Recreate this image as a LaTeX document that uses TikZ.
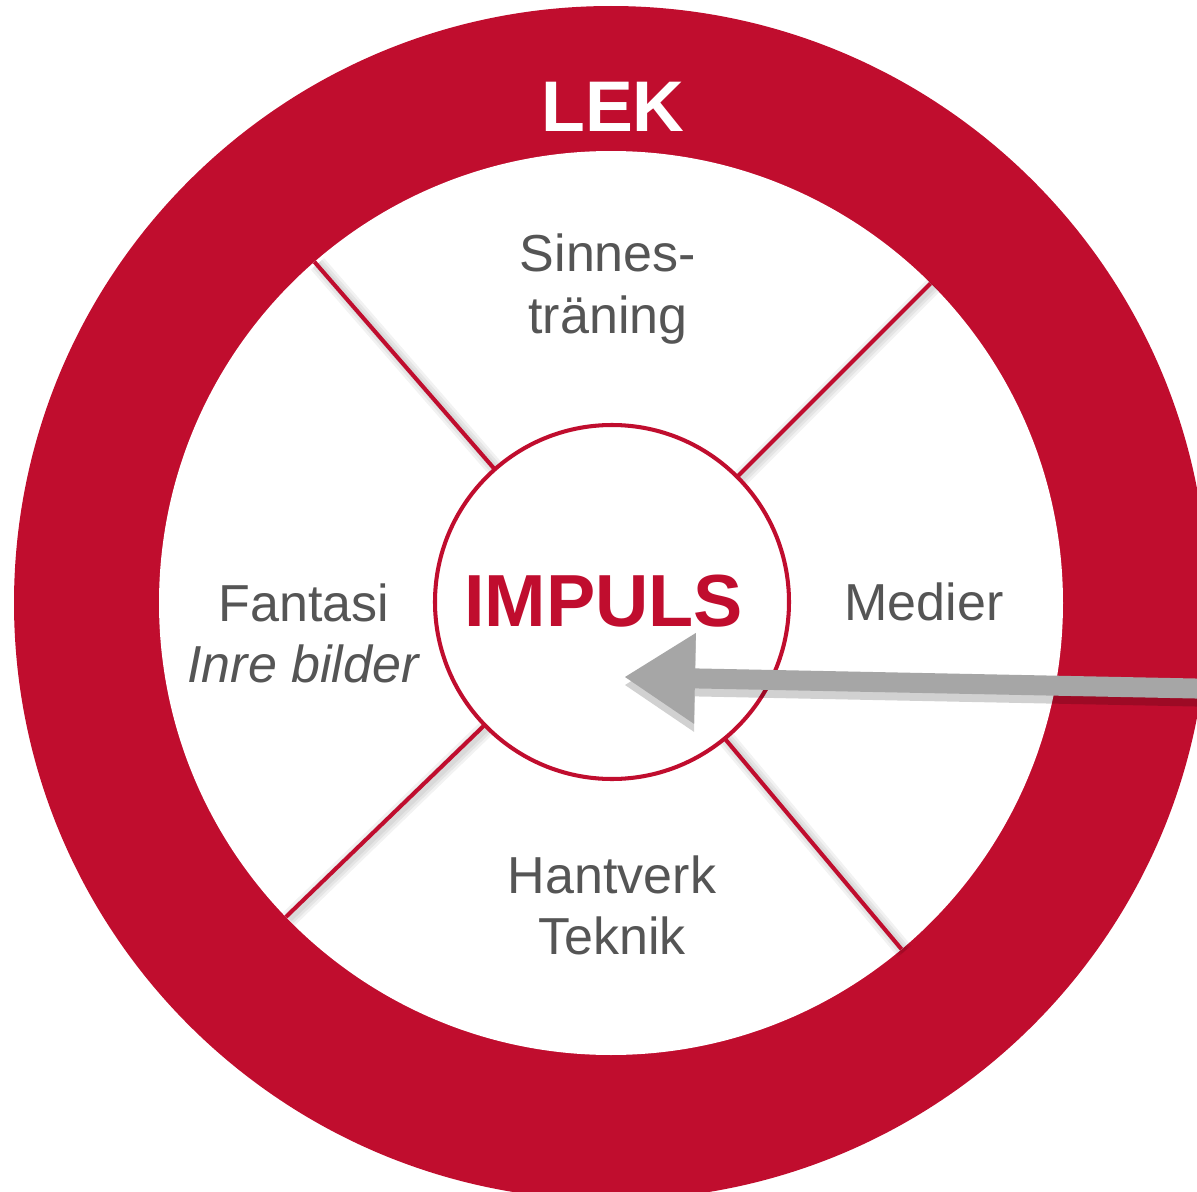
\documentclass[tikz,border=0pt]{standalone}
\usepackage{fontspec}
\setmainfont{Liberation Sans}
\usetikzlibrary{arrows.meta}
\definecolor{lekred}{RGB}{192,13,46}
\definecolor{labelgray}{RGB}{85,85,85}
\definecolor{chalkgray}{RGB}{166,166,166}
\tikzset{
  sector/.style={text=labelgray, align=center, inner sep=0pt,
    font=\fontsize{14.8}{17.4}\selectfont},
  spoke/.style={draw=lekred, line width=1.15pt},
  spokeshade/.style={draw=black, opacity=0.05, line width=#1},
  chalk/.style={line width=2mm, -{Triangle[length=7mm,width=9.1mm,line width=0pt]}},
}

\begin{document}
\begin{tikzpicture}
% ring, hub and spokes
\useasboundingbox (0,0) rectangle (11.97,-11.92);
\clip (0,0) rectangle (11.97,-11.92);
\coordinate (c) at (6.11,-6.03);
\fill[lekred] (c) circle (5.97);
\node[circle, fill=white, minimum size=9.04cm, inner sep=0pt, outer sep=0pt] (rim) at (c) {};
\foreach \a in {45,131,224,310}
{
\foreach \w in {2pt,3.5pt,5pt}
  \draw[spokeshade=\w] ([shift={(0.03,-0.02)}]rim.\a) -- ([shift={(0.03,-0.02)}]c);
\draw[spoke] (rim.\a) -- (c);
}
\node[circle, draw=lekred, line width=1.15pt, fill=white, minimum size=3.54cm,
  inner sep=0pt, outer sep=0pt] (hub) at (6.12,-6.02) {};
\node[font=\bfseries\fontsize{20.4}{24}\selectfont, text=white, inner sep=0pt] (lek) at (6.13,-1.07) {LEK};
\node[font=\bfseries\fontsize{21}{25}\selectfont, text=lekred, inner sep=0pt] (impuls) at (6.035,-6.015) {IMPULS};
\node[sector] (sinnes) at (6.08,-2.89) {Sinnes-\\träning};
\node[sector] (fantasi) at (3.04,-6.33) {Fantasi\\\textit{Inre bilder}};
\node[sector] (medier) at (9.24,-6.015) {Medier};
\node[sector] (hantverk) at (6.12,-9.05) {Hantverk\\Teknik};
% the arrow
\coordinate (tail) at (12.2,-6.89);
\coordinate (tip) at (6.25,-6.77);
\draw[chalk, black, opacity=0.18] ([yshift=-0.8mm]tail) -- ([yshift=-0.8mm]tip);
\draw[chalk, chalkgray] (tail) -- (tip);
\end{tikzpicture}
\end{document}
